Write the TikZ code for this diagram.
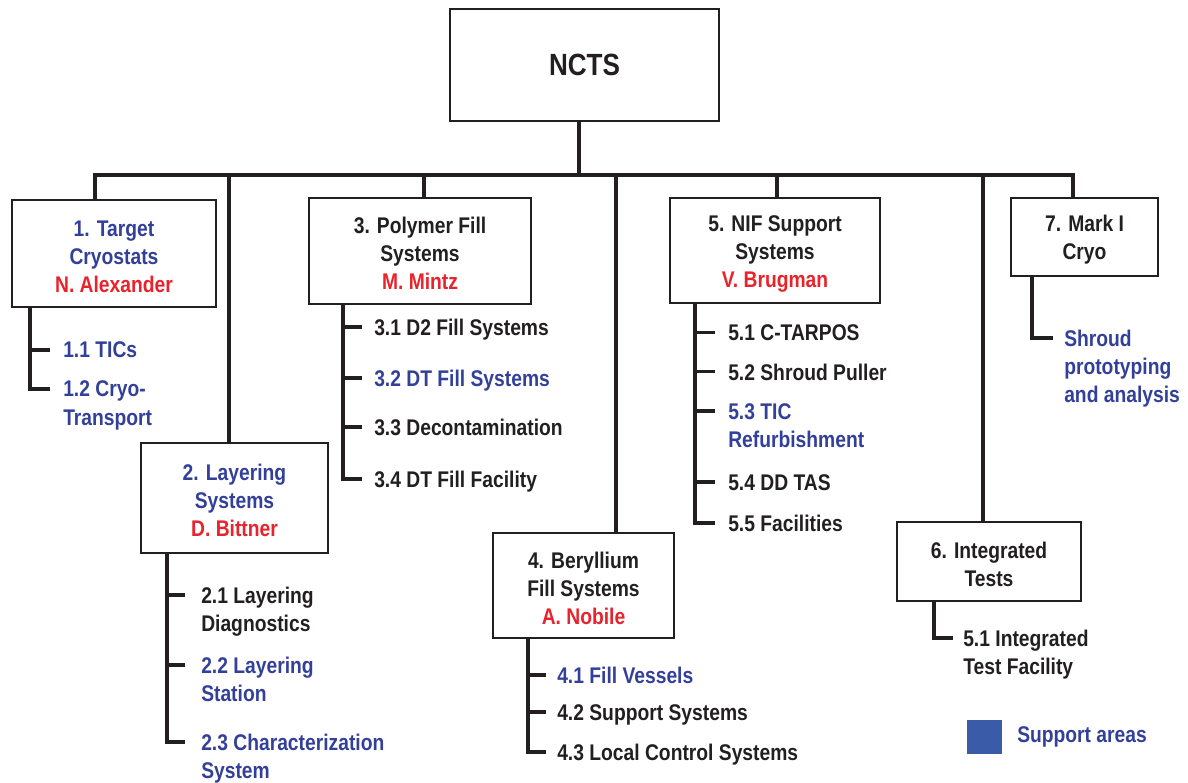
\documentclass[tikz,border=0pt]{standalone}
\usepackage{fontspec}
\setmainfont{Liberation Sans}[FakeStretch=0.85]
\usetikzlibrary{calc}
\definecolor{ink}{HTML}{231F20}
\definecolor{inkblue}{HTML}{33409A}
\definecolor{inkred}{HTML}{E8232B}
\definecolor{legendblue}{HTML}{3A5BA8}
% extra head room on a box's first line, so its text sits a little lower
\newcommand{\headroom}{\rule{0pt}{16.5pt}}
\begin{document}
\begin{tikzpicture}[x=0.75pt,y=-0.75pt,
  lbl/.style={font=\bfseries\fontsize{17}{21}\selectfont},
  frame/.style={draw=ink,line width=2pt,fill=white,align=center,inner sep=0pt,text=ink},
  box/.style={lbl,frame},
  item/.style={lbl,anchor=north west,inner sep=0pt,align=left,text=ink},
  wire/.style={draw=ink,line width=2.3pt},
  support/.style={text=inkblue}]
\useasboundingbox (0,0) rectangle (1188,782);

% top level
\node[frame,minimum width=201.75pt,minimum height=84pt,font=\bfseries\fontsize{23}{27}\selectfont] (root) at (584.5,65) {NCTS};

% work areas
\node[box,support,minimum width=153pt,minimum height=80.25pt] (b1) at (114,253.5)
  {\headroom 1. Target\\Cryostats\\\textcolor{inkred}{N. Alexander}};
\node[box,support,minimum width=140.25pt,minimum height=82.5pt] (b2) at (234.5,498)
  {\headroom 2. Layering\\Systems\\\textcolor{inkred}{D. Bittner}};
\node[box,minimum width=166.5pt,minimum height=79.5pt] (b3) at (420,251)
  {\headroom 3. Polymer Fill\\Systems\\\textcolor{inkred}{M. Mintz}};
\node[box,minimum width=135.75pt,minimum height=78.75pt] (b4) at (583.5,585.5)
  {\headroom 4. Beryllium\\Fill Systems\\\textcolor{inkred}{A. Nobile}};
\node[box,minimum width=157.5pt,minimum height=78.75pt] (b5) at (775,250.5)
  {\headroom 5. NIF Support\\Systems\\\textcolor{inkred}{V. Brugman}};
\node[box,minimum width=138pt,minimum height=59.25pt] (b6) at (989,561.5)
  {\headroom 6. Integrated\\Tests};
\node[box,minimum width=110.25pt,minimum height=58.5pt] (b7) at (1084.5,237)
  {\headroom 7. Mark I\\Cryo};

% distribution bus
\coordinate (r)  at (579,175);
\coordinate (s1) at (95,175);
\coordinate (s2) at (229,175);
\coordinate (s3) at (424,175);
\coordinate (s4) at (616,175);
\coordinate (s5) at (777,175);
\coordinate (s6) at (983,175);
\coordinate (s7) at (1073,175);
\draw[wire] (root.south -| r) -- (r);
\draw[wire] (b1.north -| s1) -- (s1) -- (s7) -- (b7.north -| s7);
\foreach \s/\b in {s2/b2,s3/b3,s4/b4,s5/b5,s6/b6}
  \draw[wire] (\s) -- (\b.north -| \s);

% sub-items (first-line centre sits 8.1 below the node top)
\node[item,support] (c11) at (63,341.9) {1.1 TICs};
\node[item,support] (c12) at (63,380.9) {1.2 Cryo-\\Transport};

\node[item] (c21) at (201,586.9) {2.1 Layering\\Diagnostics};
\node[item,support] (c22) at (201,656.9) {2.2 Layering\\Station};
\node[item,support] (c23) at (201,733.9) {2.3 Characterization\\System};

\node[item] (c31) at (374,318.9) {3.1 D2 Fill Systems};
\node[item,support] (c32) at (374,369.9) {3.2 DT Fill Systems};
\node[item] (c33) at (374,418.9) {3.3 Decontamination};
\node[item] (c34) at (374,470.9) {3.4 DT Fill Facility};

\node[item,support] (c41) at (557,666.9) {4.1 Fill Vessels};
\node[item] (c42) at (557,703.9) {4.2 Support Systems};
\node[item] (c43) at (557,743.9) {4.3 Local Control Systems};

\node[item] (c51) at (728,324.6) {5.1 C-TARPOS};
\node[item] (c52) at (728,363.6) {5.2 Shroud Puller};
\node[item,support] (c53) at (728,402.9) {5.3 TIC\\Refurbishment};
\node[item] (c54) at (728,473.9) {5.4 DD TAS};
\node[item] (c55) at (728,514.9) {5.5 Facilities};

\node[item] (c61) at (963,629.9) {5.1 Integrated\\Test Facility};

\node[item,support] (c71) at (1064,329.9) {Shroud\\prototyping\\and analysis};

% trunks and ticks
\coordinate (k1) at (30,0);
\draw[wire] ($(c11.north west)+(-13,8.1)$) -- ($(c11.north west)+(-33,8.1)$);
\draw[wire] (b1.south -| k1) |- ($(c12.north west)+(-13,8.1)$);

\coordinate (k2) at (167,0);
\foreach \c in {c21,c22}
  \draw[wire] ($(\c.north west)+(-16,8.1)$) -- ($(\c.north west)+(-34,8.1)$);
\draw[wire] (b2.south -| k2) |- ($(c23.north west)+(-16,8.1)$);

\coordinate (k3) at (343,0);
\foreach \c in {c31,c32,c33}
  \draw[wire] ($(\c.north west)+(-12,8.1)$) -- ($(\c.north west)+(-31,8.1)$);
\draw[wire] (b3.south -| k3) |- ($(c34.north west)+(-12,8.1)$);

\coordinate (k4) at (528,0);
\foreach \c in {c41,c42}
  \draw[wire] ($(\c.north west)+(-11,8.1)$) -- ($(\c.north west)+(-29,8.1)$);
\draw[wire] (b4.south -| k4) |- ($(c43.north west)+(-11,8.1)$);

\coordinate (k5) at (695,0);
\foreach \c in {c51,c52,c53,c54}
  \draw[wire] ($(\c.north west)+(-13,8.1)$) -- ($(\c.north west)+(-33,8.1)$);
\draw[wire] (b5.south -| k5) |- ($(c55.north west)+(-13,8.1)$);

\coordinate (k6) at (934,0);
\draw[wire] (b6.south -| k6) |- ($(c61.north west)+(-10,8.1)$);

\coordinate (k7) at (1032,0);
\draw[wire] (b7.south -| k7) |- ($(c71.north west)+(-11,8.1)$);

% legend
\fill[legendblue] (967,720) rectangle (1002,754);
\node[lbl,text=inkblue,anchor=west,inner sep=0pt] (key) at (1017,737) {Support areas};
\end{tikzpicture}
\end{document}
